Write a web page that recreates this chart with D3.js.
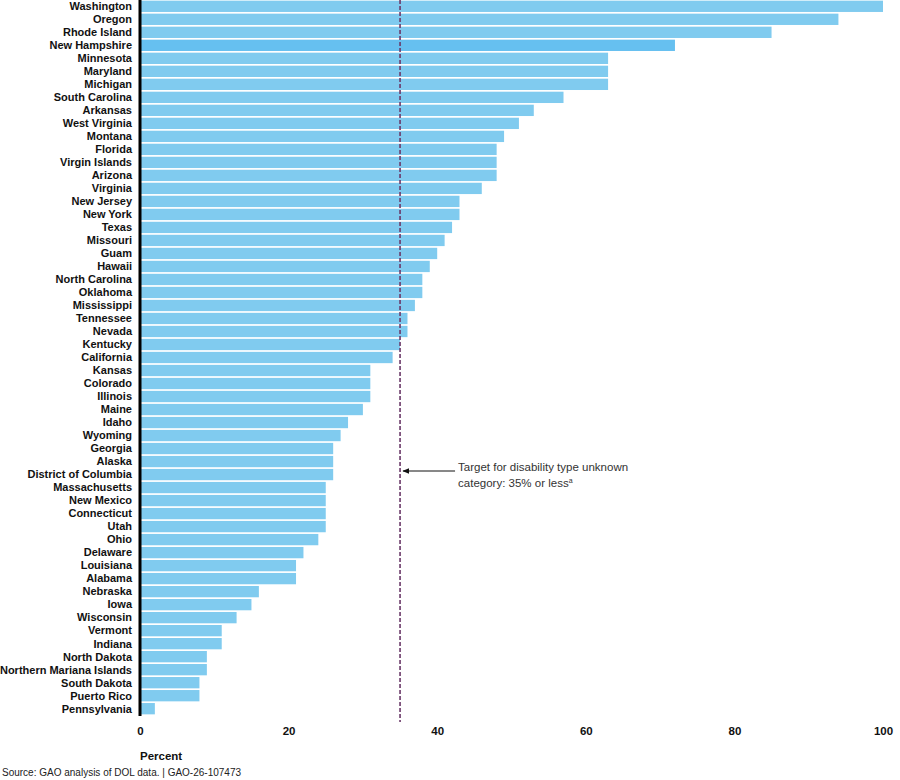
<!DOCTYPE html>
<html>
<head>
<meta charset="utf-8">
<script src="https://cdn.jsdelivr.net/npm/d3@7"></script>
<style>
    body { margin: 0; background: #fff; }
    svg { display: block; font-family: 'Liberation Sans', Arial, sans-serif; }
</style>
</head>
<body>
<svg id="chart"></svg>
<script>
const states = ['Washington', 'Oregon', 'Rhode Island', 'New Hampshire', 'Minnesota', 'Maryland', 'Michigan',
    'South Carolina', 'Arkansas', 'West Virginia', 'Montana', 'Florida', 'Virgin Islands', 'Arizona', 'Virginia',
    'New Jersey', 'New York', 'Texas', 'Missouri', 'Guam', 'Hawaii', 'North Carolina', 'Oklahoma', 'Mississippi',
    'Tennessee', 'Nevada', 'Kentucky', 'California', 'Kansas', 'Colorado', 'Illinois', 'Maine', 'Idaho', 'Wyoming',
    'Georgia', 'Alaska', 'District of Columbia', 'Massachusetts', 'New Mexico', 'Connecticut', 'Utah', 'Ohio',
    'Delaware', 'Louisiana', 'Alabama', 'Nebraska', 'Iowa', 'Wisconsin', 'Vermont', 'Indiana', 'North Dakota',
    'Northern Mariana Islands', 'South Dakota', 'Puerto Rico', 'Pennsylvania'];
const percents = [100, 94, 85, 72, 63, 63, 63,
    57, 53, 51, 49, 48, 48, 48, 46,
    43, 43, 42, 41, 40, 39, 38, 38, 37,
    36, 36, 35, 34, 31, 31, 31, 30, 28, 27,
    26, 26, 26, 25, 25, 25, 25, 24,
    22, 21, 21, 16, 15, 13, 11, 11, 9,
    9, 8, 8, 2];
const highlighted = ['New Hampshire'];
const xTicks = [0, 20, 40, 60, 80, 100];
const target = 35;
const targetText = ['Target for disability type unknown', 'category: 35% or less'];
const source = 'Source: GAO analysis of DOL data.  |  GAO-26-107473';

const width = 900, height = 780;
const left = 140, right = 883;
const data = states.map(function(s, i) { return {state: s, value: percents[i]}; });

const chart = d3.select('#chart')
    .attr('width', width)
    .attr('height', height);

const x = d3.scaleLinear()
    .domain([0, 100])
    .range([left, right]);

const y = d3.scaleBand()
    .domain(states)
    .range([0, 715])
    .paddingInner(0.13)
    .paddingOuter(0.05);

// bars
chart.append('g')
    .selectAll('rect')
    .data(data)
    .enter()
    .append('rect')
    .attr('x', x(0))
    .attr('y', function(d) { return y(d.state); })
    .attr('width', function(d) { return x(d.value) - x(0); })
    .attr('height', y.bandwidth())
    .attr('fill', function(d) {
        return highlighted.indexOf(d.state) >= 0 ? '#66c0f0' : '#80cbef';
    });

// state labels
chart.append('g')
    .selectAll('text')
    .data(data)
    .enter()
    .append('text')
    .attr('x', left - 8)
    .attr('y', function(d) { return y(d.state) + y.bandwidth() / 2; })
    .attr('dy', '.35em')
    .attr('text-anchor', 'end')
    .style('font-size', '11px')
    .style('font-weight', 'bold')
    .style('fill', '#111')
    .text(function(d) { return d.state; });

// baseline
chart.append('line')
    .attr('x1', x(0)).attr('x2', x(0))
    .attr('y1', 0).attr('y2', 716)
    .attr('stroke', '#000')
    .attr('stroke-width', 3);

// target line
chart.append('line')
    .attr('x1', x(target)).attr('x2', x(target))
    .attr('y1', 0).attr('y2', 722)
    .attr('stroke', '#6a3868')
    .attr('stroke-width', 1.6)
    .attr('stroke-dasharray', '4,2');

// x axis
const axis = chart.append('g')
    .attr('transform', 'translate(0,727)')
    .call(d3.axisBottom(x).tickValues(xTicks).tickSize(0).tickPadding(0));
axis.select('.domain').remove();
axis.selectAll('text')
    .attr('dy', '0.71em')
    .style('font-family', "'Liberation Sans', Arial, sans-serif")
    .style('font-size', '11.5px')
    .style('font-weight', 'bold')
    .style('fill', '#111');

chart.append('text')
    .attr('x', left)
    .attr('y', 760)
    .style('font-size', '11.5px')
    .style('font-weight', 'bold')
    .style('fill', '#111')
    .text('Percent');

// annotation
chart.append('defs').append('marker')
    .attr('id', 'arrow')
    .attr('viewBox', '0 0 10 10')
    .attr('refX', 9).attr('refY', 5)
    .attr('markerWidth', 7).attr('markerHeight', 7)
    .attr('orient', 'auto')
    .append('path')
    .attr('d', 'M0,1 L10,5 L0,9 Z')
    .attr('fill', '#111');

chart.append('line')
    .attr('x1', x(target) + 55).attr('x2', x(target) + 3)
    .attr('y1', 471).attr('y2', 471)
    .attr('stroke', '#111')
    .attr('stroke-width', 1)
    .attr('marker-end', 'url(#arrow)');

const note = chart.append('text')
    .attr('x', x(target) + 58)
    .attr('y', 471)
    .style('font-size', '11.5px')
    .style('fill', '#333');
note.append('tspan').attr('x', x(target) + 58).attr('dy', '0em').text(targetText[0]);
note.append('tspan').attr('x', x(target) + 58).attr('dy', '1.35em').text(targetText[1]);
note.append('tspan').attr('dy', '-0.5em').style('font-size', '7px').text('a');

chart.append('text')
    .attr('x', 2)
    .attr('y', 776)
    .style('font-size', '10px')
    .style('fill', '#222')
    .text(source);
</script>
</body>
</html>
